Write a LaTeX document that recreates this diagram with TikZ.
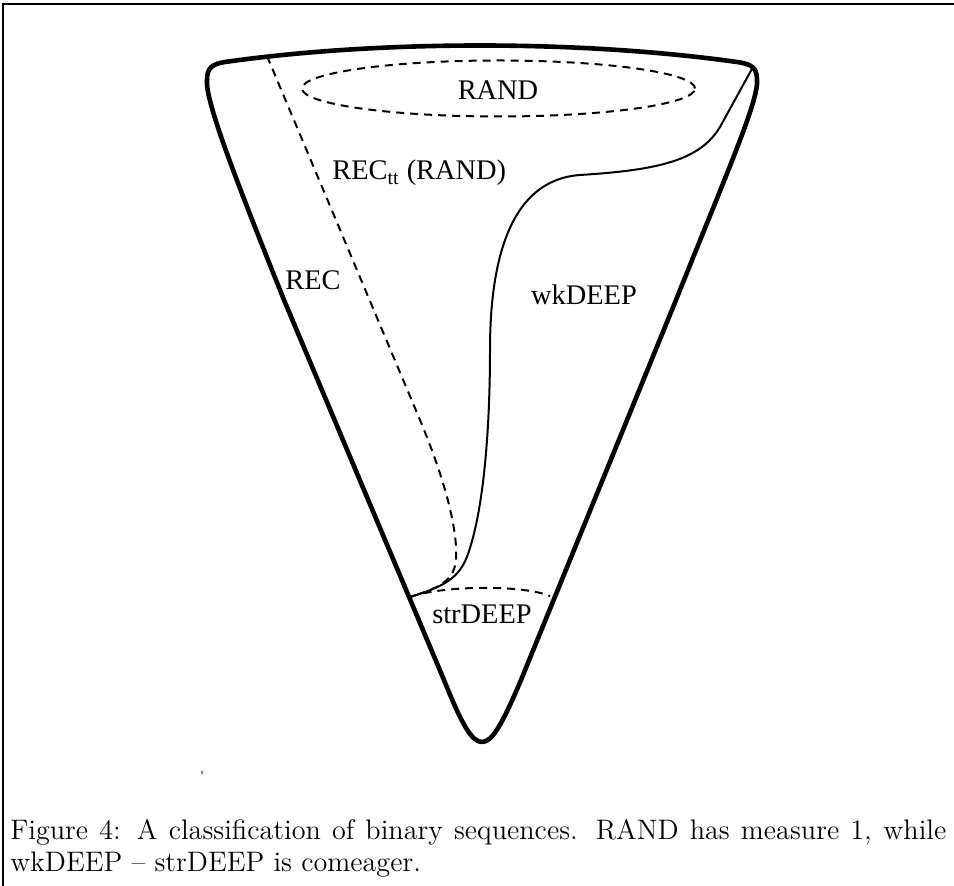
\documentclass[tikz,border=0pt]{standalone}
\usepackage{fontspec}
\newfontfamily\timesf{Liberation Serif}
\begin{document}
\begin{tikzpicture}[x=0.5pt,y=-0.5pt,
  funnel/.style={line width=2.3pt, line join=round},
  thinline/.style={line width=1pt},
  dashline/.style={line width=1pt, dash pattern=on 4pt off 3pt},
  lab/.style={font=\timesf\fontsize{14.2}{17}\selectfont, inner sep=0pt},
  captxt/.style={font=\fontsize{14.1}{17}\selectfont, inner sep=0pt, anchor=base west}]
\useasboundingbox (0,0) rectangle (954,886);
% frame
\draw[line width=1.1pt] (3,886) -- (3,4) -- (954,4);
% funnel
\draw[funnel] (225,62) .. controls (380,40) and (580,40) .. (737,62)
  .. controls (752,64) and (757,68) .. (757,80)
  .. controls (759,100) and (726,175) .. (676,300)
  -- (521,680)
  .. controls (502,725) and (492,742) .. (482,742)
  .. controls (472,742) and (462,725) .. (444,680)
  -- (284,300)
  .. controls (235,178) and (205,100) .. (207,80)
  .. controls (207,68) and (212,64) .. (225,62) -- cycle;
\coordinate (J) at (410,597);
\coordinate (T) at (267,56);
\coordinate (C) at (753,67);
% RAND ellipse
\draw[dashline] (498.5,88.5) ellipse [x radius=98.25pt, y radius=14pt];
% REC_tt boundary
\draw[dashline] (T) -- (420,420) .. controls (445,480) and (458,530) .. (456,560)
  .. controls (454,585) and (430,590) .. (J);
% wkDEEP boundary
\draw[thinline] (J) .. controls (450,585) and (462,575) .. (470,548)
  .. controls (485,500) and (490,420) .. (490,350)
  .. controls (490,260) and (510,180) .. (580,175)
  .. controls (660,170) and (700,160) .. (720,127) -- (C);
% strDEEP arc
\draw[dashline] (J) .. controls (440,586) and (520,584) .. (550,596);
% labels
\node[lab] (rand) at (498,90) {RAND};
\node[lab, anchor=base west] (rectt) at (332,180) {REC\textsubscript{tt} (RAND)};
\node[lab] (rec) at (313,280) {REC};
\node[lab] (wk) at (584,295) {wkDEEP};
\node[lab] (str) at (482,614) {strDEEP};
% stray dot
\fill[gray] (201,771) rectangle (203,774);
% caption
\node[captxt] (c1) at (10,840) {\makebox[468pt][s]{Figure 4: A classification of binary sequences. RAND has measure 1, while}};
\node[captxt] (c2) at (10,872) {wkDEEP -- strDEEP is comeager.};
\end{tikzpicture}
\end{document}
